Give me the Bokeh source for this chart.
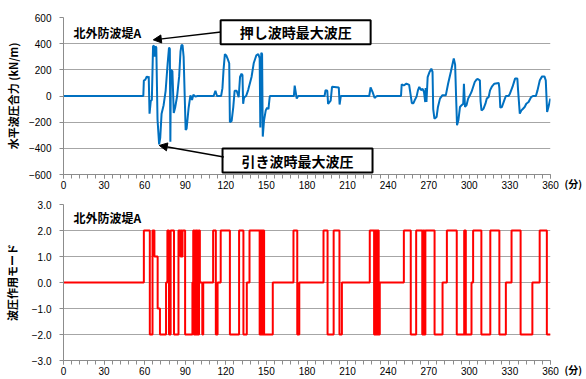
from bokeh.plotting import figure
from bokeh.layouts import column
from bokeh.models import FixedTicker, Label, Arrow, NormalHead, Range1d, LinearAxis
from bokeh.embed import file_html
from bokeh.resources import INLINE
from bokeh.core.properties import value

# ---------------- data ----------------
station = "北外防波堤A"
top_ylabel = "水平波圧合力 (kN/m)"
bot_ylabel = "波圧作用モード"
x_unit = "(分)"
push_label = "押し波時最大波圧"
pull_label = "引き波時最大波圧"

x_ticks = [0, 30, 60, 90, 120, 150, 180, 210, 240, 270, 300, 330, 360]
x_tick_labels = ["0", "30", "60", "90", "120", "150", "180", "210", "240", "270", "300", "330", "360"]
x_minor_ticks = list(range(0, 361, 6))

force_ticks = [-600, -400, -200, 0, 200, 400, 600]
force_tick_labels = ["−600", "−400", "−200", "0", "200", "400", "600"]
mode_ticks = [-3, -2, -1, 0, 1, 2, 3]
mode_tick_labels = ["−3.0", "−2.0", "−1.0", "0.0", "1.0", "2.0", "3.0"]

t_force = [
    0, 59.0, 59.4, 60.5, 61.6, 62.6, 63.0, 63.6, 64.5, 65.3,
    66.2, 66.8, 67.5, 68.0, 68.6, 69.5, 70.7, 71.5, 72.5, 74.0,
    75.5, 77.0, 78.0, 78.6, 79.0, 79.4, 80.5, 81.5, 82.5, 84.0,
    85.5, 86.5, 87.2, 88.0, 88.8, 90.3, 91.0, 92.5, 93.8, 95.0,
    96.0, 97.5, 99.0, 111.0, 112.3, 113.5, 116.5, 117.5, 118.3, 119.3,
    120.3, 121.5, 122.5, 123.0, 124.3, 125.5, 126.5, 128.0, 129.5, 130.5,
    131.6, 132.3, 132.8, 133.5, 135.0, 136.5, 139.0, 140.6, 142.5, 144.0,
    145.0, 145.5, 146.2, 146.8, 147.3, 148.2, 149.5, 150.5, 151.5, 152.5,
    170.3, 170.9, 171.8, 172.4, 173.5, 193.0, 193.7, 195.0, 195.6, 197.5,
    198.5, 203.5, 204.1, 205.0, 226.0, 227.0, 228.5, 230.0, 231.0, 232.0,
    249.5, 250.0, 251.5, 253.5, 255.5, 257.5, 258.7, 259.5, 261.0, 262.0,
    263.0, 264.3, 265.5, 266.5, 267.4, 267.7, 268.3, 269.2, 270.6, 271.9,
    272.8, 273.3, 274.2, 275.8, 276.8, 278.3, 280.0, 282.6, 284.3, 286.3,
    288.2, 288.5, 289.5, 290.2, 290.9, 291.9, 293.1, 294.3, 295.5, 296.0,
    296.8, 297.9, 299.1, 300.4, 301.6, 302.8, 304.0, 305.3, 306.0, 307.8,
    308.3, 309.0, 310.5, 311.9, 312.9, 314.3, 315.3, 316.8, 318.5, 321.7,
    322.2, 322.9, 324.1, 325.8, 327.0, 329.0, 330.0, 331.9, 333.8, 335.5,
    336.0, 337.3, 338.5, 339.7, 340.9, 342.1, 343.8, 345.7, 347.0, 349.2,
    350.4, 352.1, 353.8, 355.5, 356.5, 357.0, 357.5, 358.5, 359.7, 360.0,
]
force = [
    0, 0, 118, 125, 150, 140, 150, -135, -40, -30,
    380, 385, 300, 380, 370, -180, -370, -320, -135, -70,
    40, 250, 370, 360, -350, 200, 190, -130, -90, 0,
    150, 340, 388, 390, 300, -260, -250, -90, 5, -30,
    10, -5, 0, 0, 40, 0, 0, 60, 200, 320,
    310, 280, 250, -200, -190, -85, 40, 40, -10, 145,
    170, 160, -60, -10, 0, 45, 145, 250, 310, 320,
    290, -240, 330, 320, -310, -190, -110, -90, -100, 0,
    0, 80, 20, -20, 0, 0, 45, 40, -60, -35,
    70, 65, -65, 0, 0, 65, 30, -15, -5, 0,
    0, 90, 80, 95, 85, -55, -55, -35, -5, 43,
    69, 45, 55, 30, -46, 60, -46, 145, 184, 209,
    184, -100, -173, -160, -84, -20, 5, 5, 94, 184,
    273, 286, 240, 0, -224, -186, -84, -70, -59, 94,
    -84, -70, -20, 5, 31, 69, 107, 125, 130, 120,
    -40, -110, -97, -59, -20, -8, 43, 74, 94, 100,
    60, -89, -84, -33, 0, 0, 18, 69, 133, 133,
    50, -135, -110, -97, -84, -59, -46, -8, 0, 0,
    43, 120, 150, 150, 120, 0, -122, -84, -28, -20,
]

t_mode = [
    0, 59.4, 63.8, 65.8, 67.2, 69.6, 71.3, 75.8, 76.8, 78.0,
    79.2, 81.7, 85.0, 86.5, 87.0, 87.5, 88.0, 89.9, 95.3, 95.9,
    96.4, 96.9, 97.5, 98.0, 98.6, 99.1, 99.7, 100.2, 100.8, 102.6,
    103.3, 110.6, 112.6, 113.9, 116.2, 123.0, 129.8, 133.0, 135.5, 137.5,
    145.0, 145.4, 145.8, 146.2, 146.6, 147.0, 147.4, 147.8, 148.3, 154.7,
    170.0, 172.8, 174.3, 192.2, 195.2, 199.7, 204.0, 205.8, 226.4, 229.6,
    230.0, 230.4, 230.8, 231.2, 231.6, 232.0, 232.4, 233.0, 233.8, 251.6,
    256.7, 260.7, 265.2, 265.7, 266.1, 266.5, 266.9, 267.5, 274.3, 280.2,
    283.4, 290.7, 296.2, 296.6, 297.0, 297.4, 301.6, 302.8, 308.9, 315.5,
    322.2, 327.0, 331.2, 337.9, 346.6, 352.0, 357.3, 360.0,
]
mode = [
    0, 2, -2, 2, 1, -1, -2, 0, 2, -2,
    2, -2, 2, 1, 2, 1, 2, -2, 0, 2,
    -2, 2, -2, 2, -2, 2, -2, 2, 0, -2,
    0, 2, -2, 0, 2, -2, 2, -2, 0, 2,
    -2, 2, -2, 2, -2, 2, -2, 2, -2, 0,
    2, -2, 0, 2, -2, 2, -2, 0, 2, -2,
    2, -2, 2, -2, 2, -2, 2, -2, 0, 2,
    -2, 2, -2, 2, -2, 2, -2, 2, -2, 0,
    2, -2, 2, -2, 2, -2, 0, 2, -2, 2,
    -2, 0, 2, -2, 0, 2, -2, -2,
]

assert len(t_force) == len(force)
assert len(t_mode) == len(mode)

# annotation anchors (data coords)
push_box = (171.6, 487)
pull_box = (173.0, -493)
push_tip = (66.4, 429)
pull_tip = (70.8, -378)
push_start = (116.4, 490)
pull_start = (118.5, -467)

# ---------------- style ----------------
JP = "Noto Sans CJK JP"
NUM = "Liberation Sans"
GRID = "#A6A6A6"
AXIS = "#8C8C8C"


def style(p, ylabel, yticks, ylabels, label_standoff):
    p.xgrid.visible = False
    p.ygrid.grid_line_color = GRID
    p.ygrid.grid_line_width = 1
    p.xaxis.ticker = FixedTicker(ticks=x_ticks, minor_ticks=x_minor_ticks)
    p.xaxis.major_label_overrides = dict(zip(x_ticks, x_tick_labels))
    p.yaxis.ticker = FixedTicker(ticks=yticks)
    p.yaxis.major_label_overrides = dict(zip(yticks, ylabels))
    for ax in (p.xaxis, p.yaxis):
        ax.axis_line_color = AXIS
        ax.axis_line_width = 1
        ax.major_tick_line_color = AXIS
        ax.major_tick_out = 4
        ax.major_tick_in = 0
        ax.major_label_text_font = NUM
        ax.major_label_text_font_size = "10px"
        ax.major_label_text_color = "#000000"
    p.xaxis.minor_tick_line_color = AXIS
    p.xaxis.minor_tick_out = 4
    p.xaxis.minor_tick_in = 0
    p.xaxis.major_label_standoff = 2
    p.yaxis.minor_tick_line_color = None
    p.yaxis.major_label_standoff = 8
    p.yaxis.axis_label = ylabel
    p.yaxis.axis_label_text_font = JP
    p.yaxis.axis_label_text_font_style = "bold"
    p.yaxis.axis_label_text_font_size = "11px"
    p.yaxis.axis_label_text_color = "#000000"
    p.yaxis.axis_label_standoff = label_standoff
    # unit "(分)": single label of a right-side axis, one half line below the frame bottom
    ymin = yticks[0]
    unit_axis = LinearAxis(ticker=FixedTicker(ticks=[ymin]),
                           major_label_overrides={ymin: "\n" + x_unit},
                           axis_line_color=None, major_tick_line_color=None,
                           minor_tick_line_color=None, major_label_standoff=8,
                           major_label_text_font=JP, major_label_text_font_style="bold",
                           major_label_text_font_size="10px", major_label_text_color="#000000")
    p.add_layout(unit_axis, "right")


top = figure(width=585, height=192, x_range=Range1d(0, 360), y_range=Range1d(-600, 600),
             output_backend="svg", toolbar_location=None,
             min_border_left=62, min_border_right=28, min_border_top=17, min_border_bottom=18)
top.outline_line_color = None
style(top, top_ylabel, force_ticks, force_tick_labels, 5)
top.line(t_force, force, line_color="#0070C0", line_width=2)

for (bx, by), txt in ((push_box, push_label), (pull_box, pull_label)):
    top.rect(x=[bx], y=[by], width=150, height=24, width_units="screen", height_units="screen",
             fill_color="white", line_color="black", line_width=2)
    top.text(x=[bx], y=[by], text=[txt], text_font=value(JP), text_font_style="bold",
             text_font_size="14px", text_align="center", text_baseline="middle", text_color="black")

for (sx, sy), (ex, ey) in ((push_start, push_tip), (pull_start, pull_tip)):
    top.add_layout(Arrow(end=NormalHead(size=8, fill_color="black", line_color="black", line_width=1),
                         x_start=sx, y_start=sy, x_end=ex, y_end=ey,
                         line_color="black", line_width=1.5))

top.add_layout(Label(x=7.3, y=485, text=station, text_font=JP, text_font_style="bold",
                     text_font_size="12px", text_baseline="middle", text_align="left",
                     text_color="#000000"))

bot = figure(width=585, height=186, x_range=Range1d(0, 360), y_range=Range1d(-3, 3),
             output_backend="svg", toolbar_location=None,
             min_border_left=62, min_border_right=28, min_border_top=12, min_border_bottom=18)
bot.outline_line_color = None
style(bot, bot_ylabel, mode_ticks, mode_tick_labels, 9)
bot.step(t_mode, mode, mode="after", line_color="#FF0000", line_width=2)
bot.add_layout(Label(x=7.3, y=2.5, text=station, text_font=JP, text_font_style="bold",
                     text_font_size="12px", text_baseline="middle", text_align="left",
                     text_color="#000000"))

layout = column(top, bot)
open("out.html", "w").write(file_html(layout, INLINE))
